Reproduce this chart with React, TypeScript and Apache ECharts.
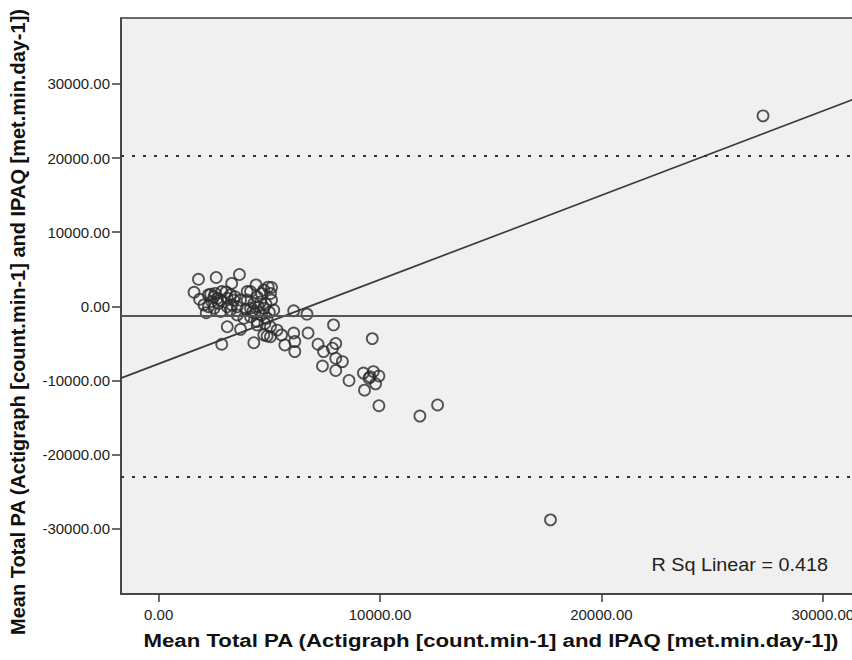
import React, { useEffect, useRef } from "react";
import * as echarts from "echarts";

// Bland–Altman style data: mean of the two methods (x) and their difference (y)
const meanPA: number[] = [
  1800, 2600, 3650, 1600, 3300, 2350, 2500, 2650, 2400, 2800,
  1850, 2050, 2150, 2800, 3100, 3250, 3400, 3300, 3100, 3050,
  3700, 4000, 4400, 4950, 4750, 5200, 5100, 3100, 3700, 2850,
  4300, 4450, 4750, 4900, 5050, 5350, 5550, 5700, 6100, 6150,
  6150, 6100, 6700, 6750, 7900, 7200, 7450, 8000, 7850, 8000,
  8300, 7400, 8000, 8600, 9650, 9250, 9550, 9700, 9950, 9500,
  9800, 9300, 9950, 11800, 12600, 27300, 17700,
  4150, 4450, 4650, 4300, 4500, 4750, 4350, 4650, 4900, 4150,
  4450, 4800, 5050, 3850, 3550, 4000, 5050, 5100, 4150, 2250,
  2550, 2700, 2500, 2250, 3250, 3450, 2850, 3550,
  4600, 4250, 4850, 5000, 3950,
];
const diffPA: number[] = [
  3650, 3900, 4300, 1900, 3100, 1650, 1300, 1100, 650, 850,
  950, 200, -850, -700, 1100, 1550, 850, 200, -50, 1950,
  850, 2000, 2900, 2600, 2200, -500, 850, -2750, -3100, -5100,
  -4900, -2500, -3850, -4000, -4100, -3200, -3850, -5200, -3600, -4750,
  -6100, -600, -1050, -3600, -2500, -5100, -6100, -5000, -5650, -7000,
  -7450, -8050, -8650, -10000, -4350, -9000, -9500, -8800, -9400, -9700,
  -10450, -11300, -13400, -14800, -13300, 25700, -28800,
  2000, 1300, 1750, 400, -50, -250, -950, -1150, -1600, -1400,
  -2050, -2300, -2750, -1600, -50, 850, 1750, 2550, -250, 1550,
  1750, 400, -250, -50, -500, 1300, 2000, -1150,
  600, -700, 300, -800, -400,
];

const MEAN_DIFF = -1300;
const UPPER_LOA = 20350;
const LOWER_LOA = -22950;
const FIT_SLOPE = 1.1365;
const FIT_INTERCEPT = -7746;
const R_SQ_TEXT = "R Sq Linear = 0.418";

const X_MIN = -1700;
const X_MAX = 31500;
const Y_MIN = -38800;
const Y_MAX = 38900;
const X_TICKS = [0, 10000, 20000, 30000];
const Y_TICKS = [-30000, -20000, -10000, 0, 10000, 20000, 30000];

const AXIS_TITLE = "Mean Total PA (Actigraph [count.min-1] and IPAQ [met.min.day-1])";

export default function App() {
  const ref = useRef<HTMLDivElement>(null);

  useEffect(() => {
    if (!ref.current) return;
    const chart = echarts.init(ref.current, undefined, { renderer: "svg" });
    const points = meanPA.map((x, i) => [x, diffPA[i]]);
    const fitLine = [X_MIN, X_MAX].map((x) => [x, FIT_INTERCEPT + FIT_SLOPE * x]);
    const font = "'Liberation Sans', Arial, Helvetica, sans-serif";

    chart.setOption({
      animation: false,
      backgroundColor: "#ffffff",
      grid: {
        left: 121,
        top: 18,
        right: 4,
        bottom: 66,
        show: true,
        backgroundColor: "#f0f0f0",
        borderColor: "#3c3c3c",
        borderWidth: 1.5,
      },
      xAxis: {
        type: "value",
        min: X_MIN,
        max: X_MAX,
        splitLine: { show: false },
        axisLine: { show: true, onZero: false, lineStyle: { color: "#3c3c3c", width: 1.5 } },
        axisTick: { show: true, length: 8, customValues: X_TICKS, lineStyle: { color: "#3c3c3c", width: 1.5 } },
        axisLabel: {
          customValues: X_TICKS,
          margin: 13,
          fontSize: 15,
          color: "#222",
          fontFamily: font,
          formatter: (v: number) => v.toFixed(2),
        },
      },
      yAxis: {
        type: "value",
        min: Y_MIN,
        max: Y_MAX,
        splitLine: { show: false },
        axisLine: { show: true, onZero: false, lineStyle: { color: "#3c3c3c", width: 1.5 } },
        axisTick: { show: true, length: 9, customValues: Y_TICKS, lineStyle: { color: "#3c3c3c", width: 1.5 } },
        axisLabel: {
          customValues: Y_TICKS,
          margin: 11,
          fontSize: 15,
          color: "#222",
          fontFamily: font,
          formatter: (v: number) => v.toFixed(2),
        },
      },
      graphic: [
        {
          type: "text",
          x: 18,
          y: 322,
          rotation: Math.PI / 2,
          style: {
            text: AXIS_TITLE,
            fontSize: 20,
            fontWeight: "bold",
            fill: "#111",
            fontFamily: font,
            textAlign: "center",
            textVerticalAlign: "middle",
          },
        },
        {
          type: "text",
          x: 491,
          y: 640,
          scaleX: 1.17,
          style: {
            text: AXIS_TITLE,
            fontSize: 19,
            fontWeight: "bold",
            fill: "#111",
            fontFamily: font,
            textAlign: "center",
            textVerticalAlign: "middle",
          },
        },
        {
          type: "text",
          x: 828,
          y: 565,
          scaleX: 1.1,
          style: {
            text: R_SQ_TEXT,
            fontSize: 18,
            fill: "#222",
            fontFamily: font,
            textAlign: "right",
            textVerticalAlign: "middle",
          },
        },
      ],
      series: [
        {
          type: "scatter",
          data: points,
          symbol: "circle",
          symbolSize: 11,
          itemStyle: { color: "rgba(0,0,0,0)", borderColor: "#2a2a2a", borderWidth: 1.8 },
          markLine: {
            silent: true,
            symbol: ["none", "none"],
            label: { show: false },
            data: [
              { yAxis: MEAN_DIFF, lineStyle: { type: "solid", color: "#555", width: 2 } },
              { yAxis: UPPER_LOA, lineStyle: { type: [3, 8], color: "#333", width: 2 } },
              { yAxis: LOWER_LOA, lineStyle: { type: [3, 8], color: "#333", width: 2 } },
            ],
          },
        },
        {
          type: "line",
          data: fitLine,
          symbol: "none",
          lineStyle: { color: "#3a3a3a", width: 1.7 },
          silent: true,
        },
      ],
    });

    return () => chart.dispose();
  }, []);

  return (
    <div style={{ position: "fixed", left: 0, top: 0, width: 852, height: 660, overflow: "hidden", background: "#fff" }}>
      <div ref={ref} style={{ width: 860, height: 660 }} />
    </div>
  );
}
